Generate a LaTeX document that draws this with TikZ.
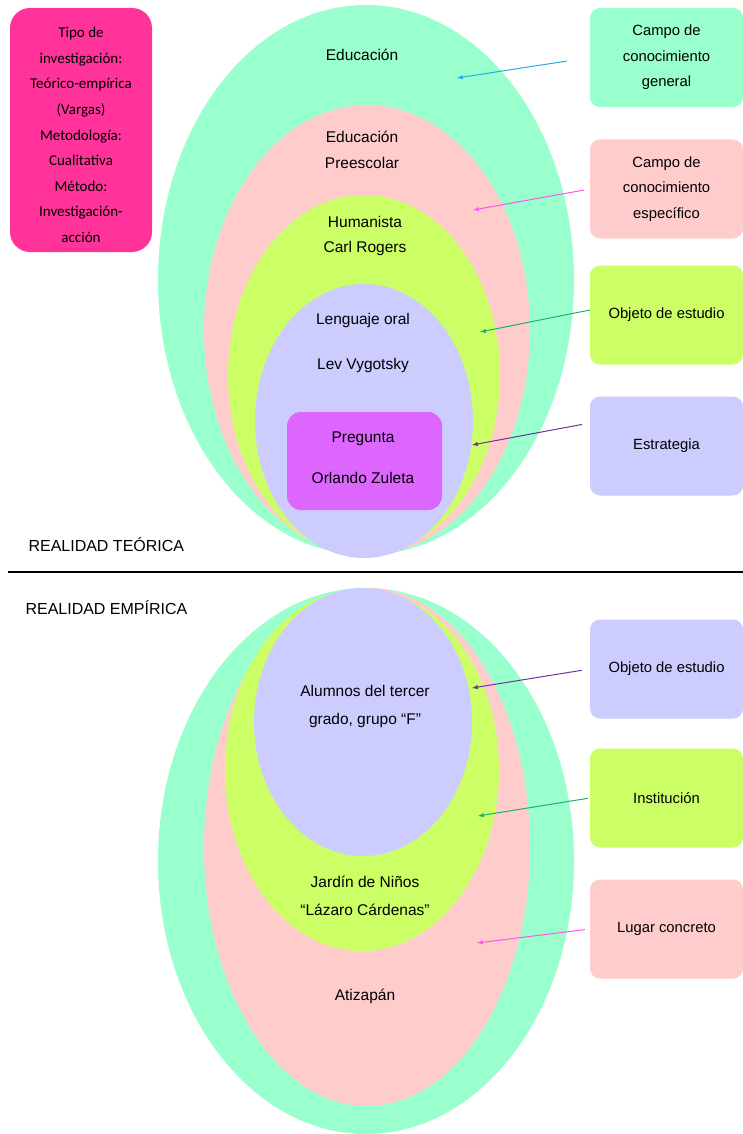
\documentclass[tikz,border=0pt]{standalone}
\usepackage{fontspec}
\setmainfont{Liberation Sans}
\newfontfamily\calibri{Carlito}
\definecolor{verdeA}{HTML}{99FFCC}
\definecolor{rosaA}{HTML}{FFCCCC}
\definecolor{limaA}{HTML}{CCFF66}
\definecolor{lilaA}{HTML}{CCCCFF}
\definecolor{moradoA}{HTML}{DD66FF}
\definecolor{fucsiaA}{HTML}{FF3399}
\definecolor{flAzul}{HTML}{29ABE2}
\definecolor{flRosa}{HTML}{FF55EE}
\definecolor{flVerde}{HTML}{1FAF6A}
\definecolor{flMorado}{HTML}{7030A0}
\begin{document}
\begin{tikzpicture}[x=1pt,y=-1pt,>=latex,
  caja/.style={rounded corners=10pt, minimum width=153pt, minimum height=99pt,
    align=center, font=\fontsize{14.8}{25.5}\selectfont},
  flecha/.style={->, line width=1pt},
  txt/.style={align=center, font=\fontsize{15.5}{28}\selectfont}]
\useasboundingbox[fill=white] (0,0) rectangle (743,1134);

% realidad teorica
\fill[verdeA] (366,280) ellipse [x radius=208pt, y radius=275pt];
\fill[rosaA] (367,330) ellipse [x radius=163pt, y radius=225pt];
\fill[limaA] (364,375) ellipse [x radius=136pt, y radius=180pt];
\fill[lilaA] (364,421) ellipse [x radius=109pt, y radius=137pt];
\node[fill=moradoA, rounded corners=14pt, minimum width=155pt, minimum height=98pt] (pr) at (364.5,461) {};

\node[txt] (ed) at (362,55) {Educación};
\node[txt] (ep) at (362,150) {Educación\\[-2pt]Preescolar};
\node[txt] (hu) at (365,235.5) {Humanista\\[-3pt]Carl Rogers};
\node[txt] (lo) at (363,342.5) {Lenguaje oral\\[17pt]Lev Vygotsky};
\node[txt] (oz) at (363,457.5) {Pregunta\\[13pt]Orlando Zuleta};

\node[fill=fucsiaA, rounded corners=20pt, minimum width=142pt, minimum height=244pt] (tipo) at (81,130) {};
\node[align=center, font=\calibri\fontsize{15}{25.6}\selectfont] (tipotxt) at (81,135)
  {Tipo de\\investigación:\\Teórico-empírica\\(Vargas)\\Metodología:\\Cualitativa\\Método:\\Investigación-\\acción};

\node[caja, fill=verdeA] (cg) at (666.5,57.5) {Campo de\\conocimiento\\general};
\node[caja, fill=rosaA] (ce) at (666.5,189) {Campo de\\conocimiento\\específico};
\node[caja, fill=limaA] (oe) at (666.5,315) {Objeto de estudio};
\node[caja, fill=lilaA] (es) at (666.5,446) {Estrategia};

\coordinate (t1) at (457,78);
\coordinate (t2) at (473,210);
\coordinate (t3) at (480,332);
\coordinate (t4) at (472,445);
\draw[flecha, flAzul, shorten <=23pt] (cg.west) -- (t1);
\draw[flecha, flRosa, shorten <=6pt] (ce.west) -- (t2);
\draw[flecha, flVerde] ([yshift=5pt]oe.west) -- (t3);
\draw[flecha, flMorado, shorten <=8pt] ([yshift=23pt]es.west) -- (t4);

\node[anchor=west, font=\fontsize{16}{18}\selectfont] (rt) at (25,545) {REALIDAD TEÓRICA};
\draw[line width=2pt] (8,572) -- (743,572);
\node[anchor=west, font=\fontsize{16}{18}\selectfont] (re) at (22,608) {REALIDAD EMPÍRICA};

% realidad empirica
\fill[verdeA] (366,861) ellipse [x radius=208pt, y radius=273pt];
\fill[rosaA] (367,847) ellipse [x radius=163pt, y radius=259pt];
\fill[limaA] (362,770) ellipse [x radius=137pt, y radius=181pt];
\fill[lilaA] (363,722) ellipse [x radius=109pt, y radius=134pt];

\node[txt] (al) at (365,706) {Alumnos del tercer\\grado, grupo “F”};
\node[txt] (jn) at (365,896) {Jardín de Niños\\“Lázaro Cárdenas”};
\node[txt] (at) at (365,996) {Atizapán};

\node[caja, fill=lilaA] (ob) at (666.5,669) {Objeto de estudio};
\node[caja, fill=limaA] (in) at (666.5,798) {Institución};
\node[caja, fill=rosaA] (lc) at (666.5,929) {Lugar concreto};

\coordinate (t5) at (472,688);
\coordinate (t6) at (478,816);
\coordinate (t7) at (477,943);
\draw[flecha, flMorado, shorten <=8pt] (ob.west) -- (t5);
\draw[flecha, flVerde, shorten <=2pt] (in.west) -- (t6);
\draw[flecha, flRosa, shorten <=5pt] (lc.west) -- (t7);
\end{tikzpicture}
\end{document}
